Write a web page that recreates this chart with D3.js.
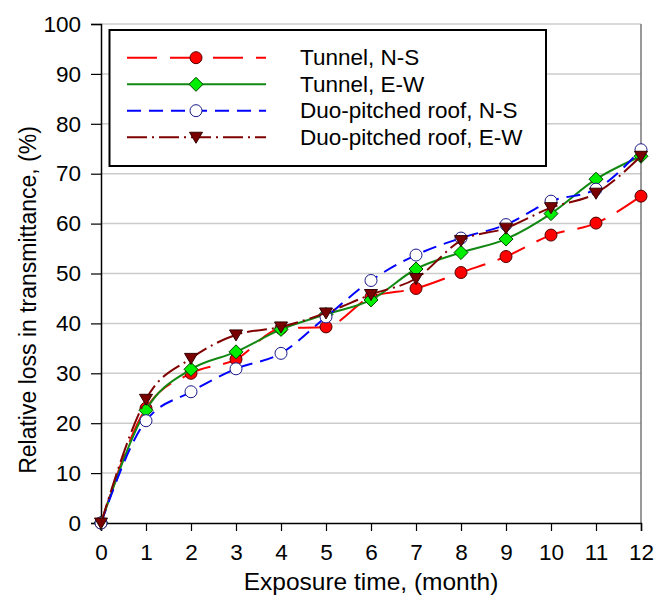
<!DOCTYPE html>
<html><head><meta charset="utf-8">
<script src="https://cdn.jsdelivr.net/npm/d3@7"></script>
<style>
html,body{margin:0;padding:0;background:#fff;}
text{font-family:"Liberation Sans",Arial,sans-serif;fill:#000;}
</style></head>
<body>
<svg id="chart" width="656" height="599"></svg>
<script>
const months = [0,1,2,3,4,5,6,7,8,9,10,11,12];
const tunnelNS = [0, 23, 30, 32.8, 39, 39.3, 45.3, 47, 50.2, 53.4, 57.7, 60.1, 65.5];
const tunnelEW = [0, 22.6, 30.8, 34.3, 38.8, 41.8, 44.7, 50.9, 54.2, 56.9, 62, 68.9, 73.5];
const duoNS = [0, 20.5, 26.3, 30.9, 34, 41.3, 48.6, 53.7, 57.1, 59.8, 64.5, 66.9, 74.8];
const duoEW = [0, 24.8, 33, 37.7, 39.3, 42.1, 45.8, 49, 56.6, 59.1, 63.2, 66.1, 73.5];
const seriesNames = ["Tunnel, N-S","Tunnel, E-W","Duo-pitched roof, N-S","Duo-pitched roof, E-W"];
const yTicks = [0,10,20,30,40,50,60,70,80,90,100];
const xTicks = months;
const xTitle = "Exposure time, (month)";
const yTitle = "Relative loss in transmittance, (%)";

const styles = [
  {color:"#ff0000", dash:"30,13", marker:"circle", fill:"#ff0000", stroke:"#500000"},
  {color:"#118811", dash:null, marker:"diamond", fill:"#00ee00", stroke:"#004400"},
  {color:"#0000ff", dash:"14,8", marker:"circle", fill:"#ffffff", stroke:"#1a1a8a"},
  {color:"#800000", dash:"20,5,2,5", marker:"triangle", fill:"#7a0000", stroke:"#300000"}
];
const allSeries = [tunnelNS, tunnelEW, duoNS, duoEW];

const svg = d3.select("#chart");
const x = d3.scaleLinear().domain([0,12]).range([101,641]);
const y = d3.scaleLinear().domain([0,100]).range([523,24]);

svg.append("g").selectAll("line").data(yTicks.filter(d=>d>0)).join("line")
  .attr("x1",x(0)).attr("x2",x(12)).attr("y1",d=>y(d)).attr("y2",d=>y(d))
  .attr("stroke","#cccccc").attr("stroke-width",1.5);
svg.append("line").attr("x1",x(12)).attr("x2",x(12)).attr("y1",y(0)).attr("y2",y(100))
  .attr("stroke","#777").attr("stroke-width",1.5);

const yAxis = d3.axisLeft(y).tickValues(yTicks).tickSize(10).tickPadding(10);
const gy = svg.append("g").attr("transform",`translate(${x(0)},0)`).call(yAxis);
gy.select(".domain").attr("stroke","#000").attr("stroke-width",1.5);
gy.selectAll(".tick line").attr("stroke","#000").attr("stroke-width",1.2);
gy.selectAll(".tick text").style("font-size","22.5px").style("font-family","Liberation Sans, Arial");

const xAxis = d3.axisBottom(x).tickValues(xTicks).tickSize(8).tickPadding(13);
const gx = svg.append("g").attr("transform",`translate(0,${y(0)})`).call(xAxis);
gx.select(".domain").attr("stroke","#000").attr("stroke-width",1.5);
gx.selectAll(".tick line").attr("stroke","#000").attr("stroke-width",1.2);
gx.selectAll(".tick text").style("font-size","22.5px").style("font-family","Liberation Sans, Arial");

svg.append("text").attr("x",371).attr("y",590).attr("text-anchor","middle")
  .style("font-size","24.5px").text(xTitle);
svg.append("text").attr("transform","translate(36,300) rotate(-90)").attr("text-anchor","middle")
  .style("font-size","23px").text(yTitle);

const line = d3.line().x((d,i)=>x(months[i])).y(d=>y(d)).curve(d3.curveMonotoneX);

function drawMarker(g, type, cx, cy, st){
  if(type==="circle"){
    g.append("circle").attr("cx",cx).attr("cy",cy).attr("r",6)
      .attr("fill",st.fill).attr("stroke",st.stroke).attr("stroke-width",1);
  } else if(type==="diamond"){
    const s=7;
    g.append("path").attr("d",`M${cx},${cy-s}L${cx+s},${cy}L${cx},${cy+s}L${cx-s},${cy}Z`)
      .attr("fill",st.fill).attr("stroke",st.stroke).attr("stroke-width",1);
  } else {
    const w=6.5, h=11;
    g.append("path").attr("d",`M${cx-w},${cy-h*0.45}L${cx+w},${cy-h*0.45}L${cx},${cy+h*0.55}Z`)
      .attr("fill",st.fill).attr("stroke",st.stroke).attr("stroke-width",1);
  }
}

allSeries.forEach((vals,si)=>{
  const st = styles[si];
  const g = svg.append("g");
  g.append("path").attr("d",line(vals)).attr("fill","none")
    .attr("stroke",st.color).attr("stroke-width",2)
    .attr("stroke-dasharray",st.dash);
  vals.forEach((v,i)=>drawMarker(g, st.marker, x(months[i]), y(v), st));
});

const lg = svg.append("g");
lg.append("rect").attr("x",109.5).attr("y",30).attr("width",436.5).attr("height",136)
  .attr("fill","#fff").attr("stroke","#000").attr("stroke-width",2);
const rowsY = [57.7, 84.3, 110.7, 137.2];
seriesNames.forEach((name,i)=>{
  const st = styles[i];
  lg.append("line").attr("x1",127).attr("x2",266).attr("y1",rowsY[i]).attr("y2",rowsY[i])
    .attr("stroke",st.color).attr("stroke-width",2).attr("stroke-dasharray",st.dash);
  drawMarker(lg, st.marker, 196, rowsY[i], st);
  lg.append("text").attr("x",300).attr("y",rowsY[i]+7.5).style("font-size","22.5px").text(name);
});
</script>
</body></html>
